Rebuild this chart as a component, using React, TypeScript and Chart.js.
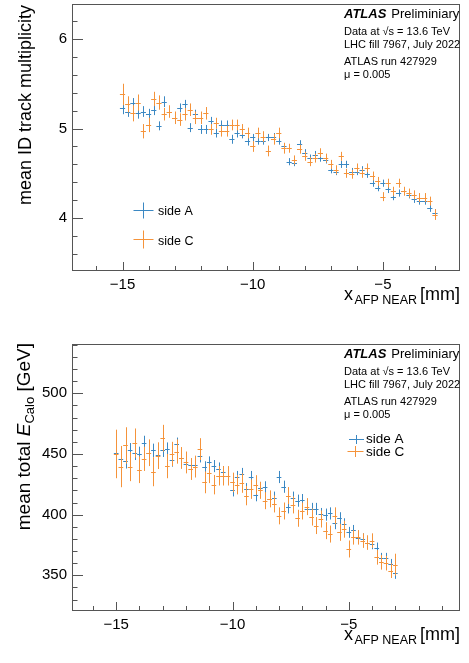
import React, { useEffect, useRef } from "react";
import { Chart, registerables } from "chart.js";

Chart.register(...registerables);

const FONT = "'Liberation Sans', Arial, Helvetica, sans-serif";
const BLUE = "#3b88c3";
const ORANGE = "#f5933a";
const FRAME = "#555555";

// bin centres of x_AFP NEAR [mm]
const xBins = [
  -15, -14.8, -14.6, -14.4, -14.2, -14, -13.8, -13.6, -13.4, -13.2,
  -13, -12.8, -12.6, -12.4, -12.2, -12, -11.8, -11.6, -11.4, -11.2,
  -11, -10.8, -10.6, -10.4, -10.2, -10, -9.8, -9.6, -9.4, -9.2,
  -9, -8.8, -8.6, -8.4, -8.2, -8, -7.8, -7.6, -7.4, -7.2,
  -7, -6.8, -6.6, -6.4, -6.2, -6, -5.8, -5.6, -5.4, -5.2,
  -5, -4.8, -4.6, -4.4, -4.2, -4, -3.8, -3.6, -3.4, -3.2,
  -3,
];
const binHalfWidth = 0.1;

// mean ID track multiplicity
const tracksA = [
  5.23, 5.19, 5.28, 5.17, 5.19, 5.16, 5.21, 5.03, 5.3, 5.19,
  5.12, 5.23, 5.27, 5.01, 5.16, 4.99, 4.99, 5.08, 4.95, 5.04,
  5.04, 4.88, 4.95, 4.93, 4.86, 4.9, 4.86, 4.86, 4.9, 4.91,
  4.86, 4.8, 4.63, 4.62, 4.83, 4.73, 4.67, 4.71, 4.67, 4.65,
  4.54, 4.52, 4.6, 4.6, 4.52, 4.52, 4.54, 4.49, 4.39, 4.34,
  4.39, 4.32, 4.24, 4.28, 4.3, 4.26, 4.21, 4.19, 4.19, 4.11,
  4.06,
];
const tracksAErr = [
  0.07, 0.06, 0.06, 0.06, 0.06, 0.06, 0.06, 0.05, 0.06, 0.05,
  0.05, 0.05, 0.05, 0.05, 0.05, 0.05, 0.05, 0.05, 0.05, 0.05,
  0.05, 0.05, 0.05, 0.04, 0.05, 0.04, 0.04, 0.04, 0.04, 0.04,
  0.04, 0.04, 0.04, 0.04, 0.04, 0.04, 0.04, 0.04, 0.04, 0.04,
  0.04, 0.04, 0.04, 0.04, 0.04, 0.04, 0.04, 0.04, 0.04, 0.04,
  0.04, 0.04, 0.04, 0.04, 0.04, 0.04, 0.04, 0.04, 0.04, 0.04,
  0.04,
];
const tracksC = [
  5.38, 5.27, 5.17, 5.29, 4.97, 5.04, 5.33, 5.29, 5.16, 5.19,
  5.12, 5.1, 5.16, 5.21, 5.12, 5.12, 5.17, 4.99, 5.06, 4.97,
  4.97, 5.04, 5.04, 4.99, 4.95, 4.8, 4.95, 4.91, 4.75, 4.88,
  4.95, 4.78, 4.78, 4.65, 4.77, 4.69, 4.63, 4.67, 4.73, 4.67,
  4.6, 4.54, 4.69, 4.5, 4.49, 4.56, 4.5, 4.56, 4.47, 4.41,
  4.24, 4.39, 4.3, 4.39, 4.3, 4.28, 4.26, 4.23, 4.23, 4.19,
  4.04,
];
const tracksCErr = [
  0.12, 0.09, 0.09, 0.09, 0.08, 0.08, 0.08, 0.08, 0.07, 0.07,
  0.07, 0.07, 0.07, 0.07, 0.07, 0.07, 0.07, 0.06, 0.06, 0.06,
  0.06, 0.06, 0.06, 0.06, 0.06, 0.06, 0.06, 0.06, 0.06, 0.06,
  0.06, 0.06, 0.05, 0.05, 0.05, 0.05, 0.05, 0.05, 0.05, 0.05,
  0.05, 0.05, 0.05, 0.05, 0.05, 0.05, 0.05, 0.05, 0.05, 0.05,
  0.05, 0.05, 0.05, 0.05, 0.05, 0.05, 0.05, 0.05, 0.05, 0.05,
  0.06,
];

// mean total E_Calo [GeV]
const ecaloA = [
  450.5, 446, 444, 453, 451, 450, 459, 451, 453, 449,
  453, 454, 445, 458, 447, 442, 441, 441, 448, 439,
  443, 440, 438, 435, 432, 420, 431, 433.5, 421, 431,
  416, 422, 422.5, 413, 414, 431, 423, 406, 414, 411.5,
  412, 404.7, 404.7, 404.7, 400.5, 400, 401, 393, 397, 392,
  385.4, 387, 381, 380, 377, 376, 372.5, 364, 364, 359,
  351.6,
];
const ecaloAErr = [
  6, 6, 6, 6, 6, 6, 6, 5.5, 5.5, 5.5,
  5.5, 5.5, 5.5, 5.5, 5, 5, 5, 5, 5, 5,
  5, 5, 5, 5, 5, 5, 5, 5, 5, 5,
  5, 5, 5, 5, 5, 5, 5, 5, 5, 5,
  5, 5, 5, 5, 5, 5, 5, 5, 5, 5,
  4.5, 4.5, 4.5, 4.5, 4.5, 4.5, 4.5, 4.5, 4.5, 4.5,
  4.5,
];
const ecaloC = [
  450, 439.6, 457, 439.6, 459, 437, 446, 451, 435.4, 448.6,
  463, 440, 450, 452, 446.7, 443, 437.6, 439.6, 454, 426.6,
  434, 424.7, 432, 432, 432, 426.6, 424.7, 426, 415.7, 421,
  424.5, 420, 411.5, 413, 408.8, 399, 403, 415.7, 408, 397,
  403, 406.6, 398, 391, 396.4, 386.8, 384, 399, 385.4, 388,
  371.7, 381.3, 381.3, 378.6, 377, 378.6, 364.8, 360.7, 360, 353.8,
  358.8,
];
const ecaloCErr = [
  20, 17, 15, 12, 12, 11, 10, 11, 12, 11,
  11, 10, 10, 10, 9, 9, 9, 9, 9, 9,
  8, 8, 8, 8, 8, 8, 8, 8, 8, 8,
  8, 7, 7, 7, 7, 7, 7, 7, 7, 7,
  7, 7, 7, 7, 7, 7, 7, 7, 7, 7,
  7, 6, 6, 6, 6, 6, 6, 6, 6, 6,
  9,
];

const topXTicks = [-15, -10, -5];
const topYTicks = [4, 5, 6];
const botXTicks = [-15, -10, -5];
const botYTicks = [350, 400, 450, 500];

const headerBold = "ATLAS";
const headerRest = "Preliminiary";
const infoLines = [
  "Data at \u221As = 13.6 TeV",
  "LHC fill 7967, July 2022",
  "ATLAS run 427929",
  "\u03BC = 0.005",
];
const seriesLabels = ["side A", "side C"];

type LegendItem = { mx: number; my: number; hw: number; vh: number; tx: number; ty: number };

type PanelCfg = {
  height: number;
  xMin: number;
  xMax: number;
  yMin: number;
  yMax: number;
  xTicks: number[];
  yTicks: number[];
  yMinorStep: number;
  values: number[][];
  errors: number[][];
  legend: LegendItem[];
  legendSize: number;
  yTitle: "tracks" | "ecalo";
};

const panels: PanelCfg[] = [
  {
    height: 340,
    xMin: -16.94,
    xMax: -2.04,
    yMin: 3.41,
    yMax: 6.39,
    xTicks: topXTicks,
    yTicks: topYTicks,
    yMinorStep: 0.2,
    values: [tracksA, tracksC],
    errors: [tracksAErr, tracksCErr],
    legend: [
      { mx: 70.5, my: 205.5, hw: 10, vh: 8, tx: 86, ty: 211 },
      { mx: 70.5, my: 235, hw: 10, vh: 9, tx: 86, ty: 240.5 },
    ],
    legendSize: 12.5,
    yTitle: "tracks",
  },
  {
    height: 323,
    xMin: -16.9,
    xMax: -0.22,
    yMin: 320.6,
    yMax: 540.6,
    xTicks: botXTicks,
    yTicks: botYTicks,
    yMinorStep: 10,
    values: [ecaloA, ecaloC],
    errors: [ecaloAErr, ecaloCErr],
    legend: [
      { mx: 283.7, my: 94.5, hw: 7.5, vh: 4.5, tx: 294, ty: 98.7 },
      { mx: 283.3, my: 107, hw: 8, vh: 5.5, tx: 294, ty: 111.7 },
    ],
    legendSize: 13.5,
    yTitle: "ecalo",
  },
];

const colors = [BLUE, ORANGE];

function font(size: number, style = "", weight = "") {
  return `${style} ${weight} ${size}px ${FONT}`.trim();
}

function makePlugin(cfg: PanelCfg) {
  return {
    id: "atlasPanel",
    afterDatasetsDraw(chart: any) {
      const { ctx, chartArea } = chart;
      const xs = chart.scales.x;
      const ys = chart.scales.y;
      ctx.save();
      ctx.beginPath();
      ctx.rect(chartArea.left, chartArea.top, chartArea.right - chartArea.left, chartArea.bottom - chartArea.top);
      ctx.clip();
      ctx.lineWidth = 1;
      chart.data.datasets.forEach((ds: any, di: number) => {
        const errs = cfg.errors[di];
        ctx.strokeStyle = ds.borderColor;
        ctx.beginPath();
        ds.data.forEach((p: any, i: number) => {
          const cx = Math.round(xs.getPixelForValue(p.x)) + 0.5;
          const cy = Math.round(ys.getPixelForValue(p.y)) + 0.5;
          const x0 = xs.getPixelForValue(p.x - binHalfWidth);
          const x1 = xs.getPixelForValue(p.x + binHalfWidth);
          const y0 = ys.getPixelForValue(p.y - errs[i]);
          const y1 = ys.getPixelForValue(p.y + errs[i]);
          ctx.moveTo(x0, cy);
          ctx.lineTo(x1, cy);
          ctx.moveTo(cx, y0);
          ctx.lineTo(cx, y1);
        });
        ctx.stroke();
      });
      ctx.restore();
    },
    afterDraw(chart: any) {
      const { ctx, chartArea } = chart;
      const xs = chart.scales.x;
      const ys = chart.scales.y;
      const L = chartArea.left;
      const R = chartArea.right;
      const T = chartArea.top;
      const B = chartArea.bottom;
      ctx.save();
      // frame
      ctx.strokeStyle = FRAME;
      ctx.lineWidth = 1;
      ctx.strokeRect(Math.round(L) + 0.5, Math.round(T) + 0.5, Math.round(R - L) - 1, Math.round(B - T) - 1);
      // y ticks
      ctx.beginPath();
      const yStart = Math.ceil(cfg.yMin / cfg.yMinorStep) * cfg.yMinorStep;
      for (let v = yStart; v <= cfg.yMax + 1e-9; v += cfg.yMinorStep) {
        const major = cfg.yTicks.some((t) => Math.abs(t - v) < 1e-6);
        const py = Math.round(ys.getPixelForValue(v)) + 0.5;
        ctx.moveTo(L, py);
        ctx.lineTo(L + (major ? 11 : 5.5), py);
      }
      // x ticks
      for (let v = Math.ceil(cfg.xMin); v <= cfg.xMax + 1e-9; v += 1) {
        const major = cfg.xTicks.some((t) => Math.abs(t - v) < 1e-6);
        const px = Math.round(xs.getPixelForValue(v)) + 0.5;
        ctx.moveTo(px, B);
        ctx.lineTo(px, B - (major ? 9 : 5));
      }
      ctx.stroke();

      // header text
      ctx.fillStyle = "#000";
      ctx.textAlign = "left";
      ctx.textBaseline = "alphabetic";
      const hx = R - 116;
      ctx.font = font(13, "italic", "bold");
      ctx.fillText(headerBold, hx, T + 13.5);
      const bw = ctx.measureText(headerBold).width;
      ctx.font = font(13);
      ctx.fillText(headerRest, hx + bw + 5, T + 13.5);
      ctx.font = font(11);
      const lineY = [30.5, 43.7, 61.3, 74.3];
      infoLines.forEach((s, i) => ctx.fillText(s, hx, T + lineY[i]));

      // legend
      cfg.legend.forEach((it, i) => {
        ctx.strokeStyle = colors[i];
        ctx.lineWidth = 1;
        const mx = Math.round(L + it.mx) + 0.5;
        const my = Math.round(T + it.my) + 0.5;
        ctx.beginPath();
        ctx.moveTo(mx - it.hw, my);
        ctx.lineTo(mx + it.hw, my);
        ctx.moveTo(mx, my - it.vh);
        ctx.lineTo(mx, my + it.vh);
        ctx.stroke();
        ctx.fillStyle = "#000";
        ctx.font = font(cfg.legendSize);
        ctx.fillText(seriesLabels[i], L + it.tx, T + it.ty);
      });

      // x title
      ctx.fillStyle = "#000";
      ctx.textAlign = "right";
      const base = B + 29;
      let x = R;
      ctx.font = font(18);
      ctx.fillText("[mm]", x, base);
      x -= ctx.measureText("[mm]").width + 3;
      ctx.font = font(12.5);
      ctx.fillText("AFP NEAR", x, base + 3.5);
      x -= ctx.measureText("AFP NEAR").width + 1.5;
      ctx.font = font(18);
      ctx.fillText("x", x, base);

      // y title
      ctx.save();
      if (cfg.yTitle === "tracks") {
        ctx.translate(31, T + 1);
        ctx.rotate(-Math.PI / 2);
        ctx.textAlign = "right";
        ctx.font = font(18);
        ctx.fillText("mean ID track multiplicity", 0, 0);
      } else {
        ctx.translate(30, T - 1);
        ctx.rotate(-Math.PI / 2);
        ctx.textAlign = "left";
        const parts = [
          { t: "mean total ", f: font(19), dy: 0 },
          { t: "E", f: font(19, "italic"), dy: 0 },
          { t: "Calo", f: font(13), dy: 3.5 },
          { t: " [GeV]", f: font(19), dy: 0 },
        ];
        let total = 0;
        const widths = parts.map((p) => {
          ctx.font = p.f;
          const w = ctx.measureText(p.t).width;
          total += w;
          return w;
        });
        let px = -total;
        parts.forEach((p, i) => {
          ctx.font = p.f;
          ctx.fillText(p.t, px, p.dy);
          px += widths[i];
        });
      }
      ctx.restore();
      ctx.restore();
    },
  };
}

function buildConfig(cfg: PanelCfg): any {
  const xAxisHeight = cfg.height - 271;
  return {
    type: "scatter",
    data: {
      datasets: cfg.values.map((vals, di) => ({
        label: seriesLabels[di],
        data: xBins.map((x, i) => ({ x, y: vals[i] })),
        borderColor: colors[di],
        backgroundColor: colors[di],
        pointRadius: 0,
        pointHoverRadius: 0,
        showLine: false,
      })),
    },
    options: {
      responsive: false,
      animation: false,
      devicePixelRatio: 1,
      layout: { padding: { left: 0, top: 4, right: 9, bottom: 0 } },
      plugins: { legend: { display: false }, tooltip: { enabled: false } },
      events: [],
      scales: {
        x: {
          type: "linear",
          min: cfg.xMin,
          max: cfg.xMax,
          afterBuildTicks: (s: any) => {
            s.ticks = cfg.xTicks.map((v) => ({ value: v }));
          },
          afterFit: (s: any) => {
            s.height = xAxisHeight;
            s.paddingLeft = 0;
            s.paddingRight = 0;
          },
          grid: { display: false, drawTicks: false },
          border: { display: false },
          ticks: {
            autoSkip: false,
            maxRotation: 0,
            padding: 5,
            color: "#000",
            font: { family: FONT, size: 15 },
            callback: (v: number) => (v < 0 ? "\u2212" + Math.abs(v) : String(v)),
          },
        },
        y: {
          type: "linear",
          min: cfg.yMin,
          max: cfg.yMax,
          afterBuildTicks: (s: any) => {
            s.ticks = cfg.yTicks.map((v) => ({ value: v }));
          },
          afterFit: (s: any) => {
            s.width = 72;
            s.paddingTop = 0;
            s.paddingBottom = 0;
          },
          grid: { display: false, drawTicks: false },
          border: { display: false },
          ticks: {
            autoSkip: false,
            padding: 5,
            color: "#000",
            font: { family: FONT, size: 15 },
            callback: (v: number) => String(v),
          },
        },
      },
    },
    plugins: [makePlugin(cfg)],
  };
}

function Panel({ cfg }: { cfg: PanelCfg }) {
  const ref = useRef<HTMLCanvasElement>(null);
  useEffect(() => {
    const chart = new Chart(ref.current as HTMLCanvasElement, buildConfig(cfg));
    return () => chart.destroy();
  }, [cfg]);
  return (
    <canvas
      ref={ref}
      width={469}
      height={cfg.height}
      style={{ display: "block", width: 469, height: cfg.height }}
    />
  );
}

export default function App() {
  return (
    <div style={{ position: "absolute", left: 0, top: 0, width: 469, height: 663, background: "#fff" }}>
      {panels.map((p, i) => (
        <Panel key={i} cfg={p} />
      ))}
    </div>
  );
}
